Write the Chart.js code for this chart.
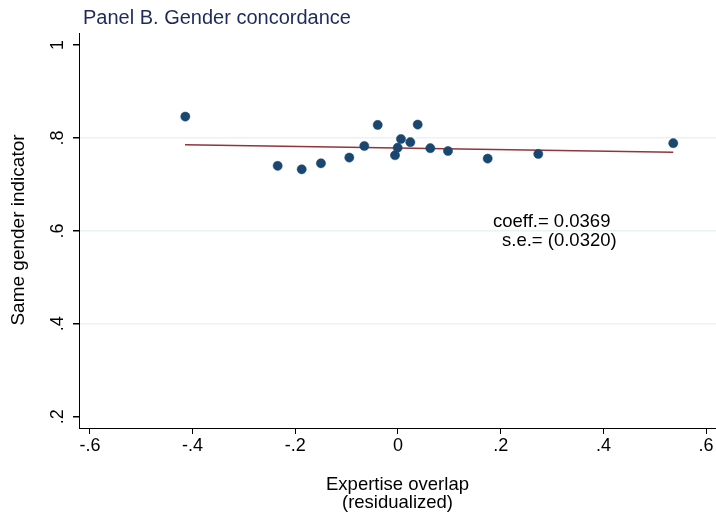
<!DOCTYPE html>
<html>
<head>
<meta charset="utf-8">
<script src="https://cdn.jsdelivr.net/npm/chart.js@4"></script>
<style>
  html, body { margin: 0; padding: 0; background: #fff; }
  #wrap { width: 716px; height: 512px; position: relative; }
</style>
</head>
<body>
<div id="wrap"><canvas id="scatterChart"></canvas></div>
<script>
// Binned scatter: expertise overlap vs. same gender indicator
const overlapX = [-0.4142, -0.2343, -0.1875, -0.1500, -0.0948, -0.0656, -0.0395, -0.0058, -0.0006,
                  0.0058, 0.0240, 0.0384, 0.0629, 0.0974, 0.1747, 0.2732, 0.5361];
const sameGenderY = [0.846, 0.740, 0.7326, 0.7455, 0.7578, 0.7828, 0.8282, 0.7628, 0.7791,
                     0.7978, 0.791, 0.8288, 0.778, 0.772, 0.7556, 0.7657, 0.7888];

// Fitted line end points
const fitX = [-0.4148, 0.5361];
const fitY = [0.7856, 0.7692];

const xTicks = [-0.6, -0.4, -0.2, 0, 0.2, 0.4, 0.6];
const yTicks = [0.2, 0.4, 0.6, 0.8, 1];
const yGridAt = [0.4, 0.6, 0.8];

const titleText = 'Panel B. Gender concordance';
const xTitle = ['Expertise overlap', '(residualized)'];
const yTitle = 'Same gender indicator';
const noteLines = ['coeff.= 0.0369', 's.e.= (0.0320)'];

const FONT = 'Arial, "Liberation Sans", Helvetica, sans-serif';

function fmt(v) {
    if (Math.abs(v) < 1e-9) return '0';
    if (Math.abs(v - 1) < 1e-9) return '1';
    return v.toFixed(1).replace('0.', '.');
}

// Texts drawn around the plot: title, rotated y labels, axis titles, note
const decorations = {
    id: 'decorations',
    afterDraw(chart) {
        const ctx = chart.ctx;
        const ys = chart.scales.y;
        const xs = chart.scales.x;
        ctx.save();

        ctx.fillStyle = '#1e2b5a';
        ctx.font = '20px ' + FONT;
        ctx.textAlign = 'left';
        ctx.textBaseline = 'alphabetic';
        ctx.fillText(titleText, 83, 24);

        ctx.fillStyle = '#000';
        ctx.font = '18px ' + FONT;
        ctx.textAlign = 'center';
        yTicks.forEach(v => {
            const py = ys.getPixelForValue(v);
            ctx.save();
            ctx.translate(63, py);
            ctx.rotate(-Math.PI / 2);
            ctx.fillText(fmt(v), 0, 0);
            ctx.restore();
        });

        ctx.font = '19px ' + FONT;
        ctx.save();
        ctx.translate(24, 230);
        ctx.rotate(-Math.PI / 2);
        ctx.fillText(yTitle, 0, 0);
        ctx.restore();

        ctx.font = '18.5px ' + FONT;
        const cx = (xs.left + xs.right) / 2;
        ctx.fillText(xTitle[0], cx, 490);
        ctx.fillText(xTitle[1], cx, 508);

        ctx.textAlign = 'left';
        ctx.fillText(noteLines[0], 493, 227);
        ctx.fillText(noteLines[1], 502, 246);

        ctx.restore();
    }
};

new Chart(document.getElementById('scatterChart'), {
    type: 'scatter',
    data: {
        datasets: [
            {
                label: 'bins',
                data: overlapX.map((x, i) => ({ x: x, y: sameGenderY[i] })),
                backgroundColor: '#1a476f',
                borderColor: '#1a476f',
                borderWidth: 0.5,
                pointRadius: 4.6,
                order: 0
            },
            {
                type: 'line',
                label: 'fit',
                data: fitX.map((x, i) => ({ x: x, y: fitY[i] })),
                borderColor: '#90353b',
                borderWidth: 1.6,
                pointRadius: 0,
                fill: false,
                order: 1
            }
        ]
    },
    options: {
        responsive: true,
        maintainAspectRatio: false,
        animation: false,
        layout: { autoPadding: false, padding: { left: 0, right: 0, top: 33, bottom: 0 } },
        plugins: {
            legend: { display: false },
            tooltip: { enabled: false }
        },
        scales: {
            x: {
                type: 'linear',
                min: -0.6212,
                max: 0.6193,
                afterBuildTicks: s => { s.ticks = xTicks.map(v => ({ value: v })); },
                afterFit: s => { s.height = 84; s.paddingLeft = 0; s.paddingRight = 0; },
                border: { color: '#000', width: 1 },
                grid: {
                    drawOnChartArea: false,
                    drawTicks: true,
                    tickLength: 6,
                    tickColor: '#000'
                },
                ticks: {
                    color: '#000',
                    font: { family: FONT, size: 18 },
                    padding: 1,
                    maxRotation: 0,
                    callback: v => fmt(v)
                }
            },
            y: {
                type: 'linear',
                min: 0.1757,
                max: 1.026,
                afterBuildTicks: s => { s.ticks = yTicks.map(v => ({ value: v })); },
                afterFit: s => { s.width = 79; },
                border: { color: '#000', width: 1 },
                grid: {
                    color: c => yGridAt.some(g => Math.abs(g - c.tick.value) < 1e-6) ? '#eaf2f3' : 'rgba(0,0,0,0)',
                    lineWidth: 1.5,
                    drawTicks: true,
                    tickLength: 6,
                    tickColor: '#000'
                },
                ticks: { display: false }
            }
        }
    },
    plugins: [decorations]
});
</script>
</body>
</html>
